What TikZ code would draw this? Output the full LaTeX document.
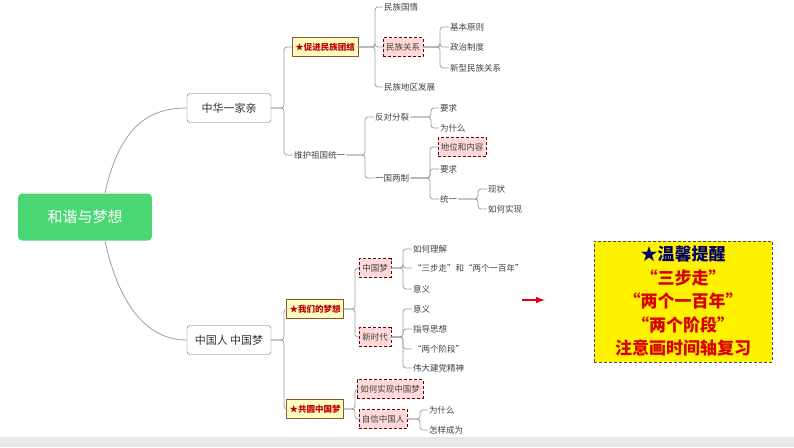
\documentclass[tikz,border=0pt]{standalone}
\usepackage{fontspec}
\usetikzlibrary{calc}
\setmainfont{Noto Sans CJK SC}
\begin{document}
\begin{tikzpicture}[x=1pt,y=-1pt,
  conn/.style={draw=gray!75,line width=0.8pt,rounded corners=3pt},
  lvl1/.style={draw=gray!80!black,rounded corners=3pt,fill=white,minimum width=84pt,minimum height=29pt,font=\fontsize{11}{12}\selectfont,text=black!80},
  star/.style={draw=brown!70!black,fill=yellow!25,minimum height=19pt,inner xsep=3pt,font=\fontsize{8.5}{9}\selectfont\bfseries,text=red!75!black},
  pink/.style={draw=red!40!black,densely dashed,fill=pink!60,minimum height=19pt,inner xsep=3pt,font=\fontsize{8.5}{9}\selectfont,text=black!75},
  leaf/.style={anchor=west,inner sep=1pt,font=\fontsize{8.5}{9}\selectfont,text=black!75},
  callt/.style={font=\fontsize{17}{23.5}\selectfont\bfseries,text=red!85!black}]
\useasboundingbox (0,0) rectangle (794,447);
\fill[gray!18] (0,437) rectangle (794,447);
% root
\node[fill=green!55!teal!70,draw=none,rounded corners=4pt,minimum width=134pt,minimum height=47pt,text=white,font=\fontsize{15}{16}\selectfont] (root) at (85,217) {和谐与梦想};
\node[lvl1] (a) at (229,108) {中华一家亲};
\node[lvl1] (b) at (229,340) {中国人 中国梦};
\draw[conn,rounded corners=0] (105,193) .. controls (120,125) and (150,108) .. (a.west);
\draw[conn,rounded corners=0] (105,241) .. controls (120,310) and (150,340) .. (b.west);
% branch a
\node[star] (a1) at (325,47) {★促进民族团结};
\node[leaf] (a2) at (293,155) {维护祖国统一};
\coordinate (xa) at (284,0);
\draw[conn] (a.east) -- (a.east -| xa) |- (a1.west);
\draw[conn] (a.east) -- (a.east -| xa) |- (a2.west);
\node[leaf] (a11) at (383,7) {民族国情};
\node[pink] (a12) at (403,47) {民族关系};
\node[leaf] (a13) at (383,87) {民族地区发展};
\coordinate (xa1) at (375,0);
\foreach \c in {a11,a12,a13}{\draw[conn] (a1.east) -- (a1.east -| xa1) |- (\c.west);}
\node[leaf] (a121) at (449,27) {基本原则};
\node[leaf] (a122) at (449,47) {政治制度};
\node[leaf] (a123) at (449,68) {新型民族关系};
\coordinate (xa12) at (440,0);
\foreach \c in {a121,a122,a123}{\draw[conn] (a12.east) -- (a12.east -| xa12) |- (\c.west);}
\node[leaf] (a21) at (374,117) {反对分裂};
\node[leaf] (a22) at (374,178) {一国两制};
\coordinate (xa2) at (365,0);
\foreach \c in {a21,a22}{\draw[conn] (a2.east) -- (a2.east -| xa2) |- (\c.west);}
\node[leaf] (a211) at (439,108) {要求};
\node[leaf] (a212) at (439,128) {为什么};
\coordinate (xa21) at (431,0);
\foreach \c in {a211,a212}{\draw[conn] (a21.east) -- (a21.east -| xa21) |- (\c.west);}
\node[pink] (a221) at (462,147) {地位和内容};
\node[leaf] (a222) at (439,169) {要求};
\node[leaf] (a223) at (439,199) {统一};
\coordinate (xa22) at (430,0);
\foreach \c in {a221,a222,a223}{\draw[conn] (a22.east) -- (a22.east -| xa22) |- (\c.west);}
\node[leaf] (a2231) at (487,189) {现状};
\node[leaf] (a2232) at (487,209) {如何实现};
\coordinate (xa223) at (478,0);
\foreach \c in {a2231,a2232}{\draw[conn] (a223.east) -- (a223.east -| xa223) |- (\c.west);}
% branch b
\node[star] (b1) at (315,309) {★我们的梦想};
\node[star] (b2) at (315,409) {★共圆中国梦};
\coordinate (xb) at (284,0);
\foreach \c in {b1,b2}{\draw[conn] (b.east) -- (b.east -| xb) |- (\c.west);}
\node[pink] (b11) at (375,268) {中国梦};
\node[pink] (b12) at (375,337) {新时代};
\coordinate (xb1) at (355,0);
\foreach \c in {b11,b12}{\draw[conn] (b1.east) -- (b1.east -| xb1) |- (\c.west);}
\node[leaf] (b111) at (412,249) {如何理解};
\node[leaf] (b112) at (412,268) {“三步走”和“两个一百年”};
\node[leaf] (b113) at (412,289) {意义};
\coordinate (xb11) at (403,0);
\foreach \c in {b111,b112,b113}{\draw[conn] (b11.east) -- (b11.east -| xb11) |- (\c.west);}
\node[leaf] (b121) at (412,309) {意义};
\node[leaf] (b122) at (412,329) {指导思想};
\node[leaf] (b123) at (412,349) {“两个阶段”};
\node[leaf] (b124) at (412,368) {伟大建党精神};
\coordinate (xb12) at (403,0);
\foreach \c in {b121,b122,b123,b124}{\draw[conn] (b12.east) -- (b12.east -| xb12) |- (\c.west);}
\node[pink] (b21) at (390,389) {如何实现中国梦};
\node[pink] (b22) at (383,419) {自信中国人};
\coordinate (xb2) at (355,0);
\foreach \c in {b21,b22}{\draw[conn] (b2.east) -- (b2.east -| xb2) |- (\c.west);}
\node[leaf] (b221) at (428,410) {为什么};
\node[leaf] (b222) at (428,430) {怎样成为};
\coordinate (xb22) at (420,0);
\foreach \c in {b221,b222}{\draw[conn] (b22.east) -- (b22.east -| xb22) |- (\c.west);}
% callout
\node[draw=gray!60!black,densely dashed,fill=yellow,minimum width=178pt,minimum height=121pt,inner sep=2pt] (tip) at (683,301.5) {};
\node[callt,align=center] (tiptext) at (tip.center) {{\color{blue!40!black}★温馨提醒}\\“三步走”\\“两个一百年”\\“两个阶段”\\注意画时间轴复习};
\coordinate (arr) at (522,300);
\draw[-latex,line width=2pt,color=red!60!purple] (arr) -- ($(tip.west |- arr)+(-49,0)$);
\end{tikzpicture}
\end{document}
